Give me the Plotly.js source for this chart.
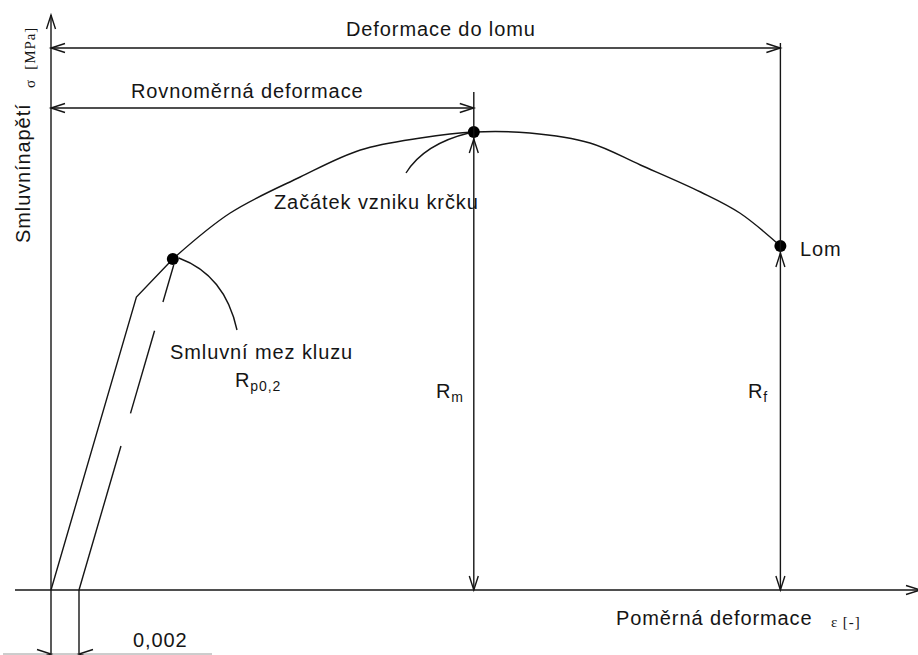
<!DOCTYPE html>
<html>
<head>
<meta charset="utf-8">
<script src="https://cdn.plot.ly/plotly-3.0.1.min.js"></script>
<style>
  html, body { margin: 0; padding: 0; background: #fff; }
  #chart { width: 918px; height: 655px; }
  .annotation-text { letter-spacing: 0.9px; }
</style>
</head>
<body>
<div id="chart"></div>
<script>
// Schematic engineering stress–strain diagram (tensile test)

// proof strain used for the offset yield strength Rp0,2
const OFFSET = 0.002;

// elastic part: origin -> end of proportionality -> offset yield point
const elasticStrain = [0, 0.0061, 0.0087];
const elasticStress = [0, 293, 331];

// plastic part: yield -> ultimate strength -> fracture
const plasticStrain = [0.0087, 0.0128, 0.0178, 0.0221, 0.0264, 0.0302,
                       0.0342, 0.0385, 0.0421, 0.0464, 0.0492, 0.0521];
const plasticStress = [331, 377, 413, 440, 452, 458,
                       457, 447, 425, 398, 377, 344];

// marked points: Rp0,2, Rm, Rf
const keyStrain = [0.0087, 0.0302, 0.0521];
const keyStress = [331, 458, 344];

// ---- drawing scale (pixels of the 918x655 canvas) ----
const W = 918, H = 655;
const ORIGIN = [51, 590];            // pixel position of (0, 0)
const PX_PER_STRAIN = 28 / OFFSET;   // horizontal scale
const PX_PER_MPA = 1;                // vertical scale
const ix = p => (p - ORIGIN[0]) / PX_PER_STRAIN;   // pixel -> strain
const iy = p => (ORIGIN[1] - p) / PX_PER_MPA;      // pixel -> stress
const sx = v => ORIGIN[0] + v * PX_PER_STRAIN;     // strain -> pixel
const sy = v => ORIGIN[1] - v * PX_PER_MPA;        // stress -> pixel
const f = v => v.toFixed(8);

const INK = '#151515';
const LW = 1.4;
const DOT_R = 6;

// Young's modulus from the elastic line, used for the offset line
const E = elasticStress[1] / elasticStrain[1];
const offsetEnd = keyStress[0] - DOT_R;

// offset line drawn as long dashes (lengths in pixels), broken with nulls
function dashedOffset() {
  const x0 = OFFSET, y0 = 0, x1 = OFFSET + offsetEnd / E, y1 = offsetEnd;
  const len = Math.hypot(sx(x1) - sx(x0), sy(y1) - sy(y0));
  const pattern = [150, 34, 86, 30];
  const xs = [], ys = [];
  let d = 0, i = 0;
  while (d < len) {
    const on = i < pattern.length ? pattern[i] : len;
    const a = d / len, b = Math.min(d + on, len) / len;
    xs.push(x0 + a * (x1 - x0), x0 + b * (x1 - x0), null);
    ys.push(y0 + a * (y1 - y0), y0 + b * (y1 - y0), null);
    d += on + (i + 1 < pattern.length ? pattern[i + 1] : 0);
    i += 2;
  }
  return { x: xs, y: ys };
}
const dash = dashedOffset();

const traces = [
  { x: elasticStrain, y: elasticStress, mode: 'lines',
    line: { color: INK, width: LW }, hoverinfo: 'skip' },
  { x: plasticStrain, y: plasticStress, mode: 'lines',
    line: { color: INK, width: LW, shape: 'spline', smoothing: 1 }, hoverinfo: 'skip' },
  { x: dash.x, y: dash.y, mode: 'lines', connectgaps: false,
    line: { color: INK, width: LW }, hoverinfo: 'skip' },
  { x: keyStrain, y: keyStress, mode: 'markers',
    marker: { color: '#000', size: 2 * DOT_R }, hoverinfo: 'skip' }
];

// ---- helpers for lines and open arrowheads given in pixels ----
function lineD(x0, y0, x1, y1, color, width) {
  return { type: 'line', xref: 'x', yref: 'y', x0: x0, y0: y0, x1: x1, y1: y1,
           line: { color: color || INK, width: width || LW } };
}
function head(tx, ty, ux, uy) {       // tip in pixels, pointing direction (unit)
  const L = 14, Wd = 4.5;
  const px = -uy, py = ux;
  const ax = tx - ux * L + px * Wd, ay = ty - uy * L + py * Wd;
  const bx = tx - ux * L - px * Wd, by = ty - uy * L - py * Wd;
  return { type: 'path', xref: 'x', yref: 'y',
           path: `M ${f(ix(ax))},${f(iy(ay))} L ${f(ix(tx))},${f(iy(ty))} L ${f(ix(bx))},${f(iy(by))}`,
           line: { color: INK, width: LW } };
}
function quad(p0, c, p1) {            // quadratic leader curve in pixels
  return { type: 'path', xref: 'x', yref: 'y',
           path: `M ${f(ix(p0[0]))},${f(iy(p0[1]))} Q ${f(ix(c[0]))},${f(iy(c[1]))} ${f(ix(p1[0]))},${f(iy(p1[1]))}`,
           line: { color: INK, width: LW } };
}

const yieldPx = [sx(keyStrain[0]), sy(keyStress[0])];
const peakPx = [sx(keyStrain[1]), sy(keyStress[1])];
const fracPx = [sx(keyStrain[2]), sy(keyStress[2])];
const offPx = sx(OFFSET);

const DIM_TOTAL = iy(48);      // "Deformace do lomu" dimension level
const DIM_UNIFORM = iy(108);   // "Rovnoměrná deformace" dimension level

const shapes = [
  // axes
  lineD(ix(15), 0, ix(W + 5), 0),
  lineD(0, iy(15), 0, iy(H + 5)),
  head(W + 2, ORIGIN[1], 1, 0),
  head(ORIGIN[0], 15, 0, -1),
  // offset dimension below the strain axis
  lineD(OFFSET, 0, OFFSET, iy(H + 5)),
  lineD(ix(3), iy(654), ix(212), iy(654), '#9a9a9a', 1),
  head(ORIGIN[0], 654, 1, 0),
  head(offPx, 654, -1, 0),
  // extension lines at Rm and Rf
  lineD(keyStrain[1], 0, keyStrain[1], iy(92)),
  lineD(keyStrain[2], 0, keyStrain[2], iy(43)),
  // Rm and Rf stress dimensions
  head(peakPx[0], peakPx[1] + DOT_R + 1, 0, -1),
  head(peakPx[0], ORIGIN[1], 0, 1),
  head(fracPx[0], fracPx[1] + DOT_R + 1, 0, -1),
  head(fracPx[0], ORIGIN[1], 0, 1),
  // strain dimensions
  lineD(0, DIM_TOTAL, keyStrain[2], DIM_TOTAL),
  head(ORIGIN[0], sy(DIM_TOTAL), -1, 0),
  head(fracPx[0], sy(DIM_TOTAL), 1, 0),
  lineD(0, DIM_UNIFORM, keyStrain[1], DIM_UNIFORM),
  head(ORIGIN[0], sy(DIM_UNIFORM), -1, 0),
  head(peakPx[0], sy(DIM_UNIFORM), 1, 0),
  // leader curves
  quad([yieldPx[0] + 6, yieldPx[1] - 1], [225, 275], [237, 330]),
  quad([406, 173], [424, 144], [peakPx[0] - 5, peakPx[1] + 1])
];

// ---- labels ----
const SANS = 'Liberation Sans, Arial, sans-serif';
const SERIF = 'Liberation Serif, Times New Roman, serif';
function label(text, cx, cy, opts) {
  opts = opts || {};
  return { text: text, x: ix(cx), y: iy(cy), xref: 'x', yref: 'y', showarrow: false,
           xanchor: 'center', yanchor: 'middle', textangle: opts.angle || 0,
           font: { family: opts.family || SANS, size: opts.size || 20, color: INK } };
}
const annotations = [
  label('Deformace do lomu', 441, 29),
  label('Rovnoměrná deformace', 247, 91),
  label('Začátek vzniku krčku', 376, 202),
  label('Smluvní mez kluzu', 261, 352),
  label('R<sub>p0,2</sub>', 258, 381),
  label('Lom', 821, 249),
  label('R<sub>m</sub>', 450, 392),
  label('R<sub>f</sub>', 758, 392),
  label('Poměrná deformace', 714, 618),
  label('ε&nbsp;[-]', 846, 622, { family: SERIF, size: 15 }),
  label(String(OFFSET).replace('.', ','), 160, 640),
  label('Smluvnínapětí', 23, 173, { angle: -90 }),
  label('σ&nbsp;&nbsp;[MPa]', 30, 58, { family: SERIF, size: 15, angle: -90 })
];

const layout = {
  width: W, height: H,
  margin: { l: 0, r: 0, t: 0, b: 0 },
  paper_bgcolor: '#fff', plot_bgcolor: '#fff',
  showlegend: false,
  xaxis: { range: [ix(0), ix(W)], visible: false, fixedrange: true },
  yaxis: { range: [iy(H), iy(0)], visible: false, fixedrange: true },
  shapes: shapes,
  annotations: annotations
};

Plotly.newPlot('chart', traces, layout, { staticPlot: true, displayModeBar: false });
</script>
</body>
</html>
